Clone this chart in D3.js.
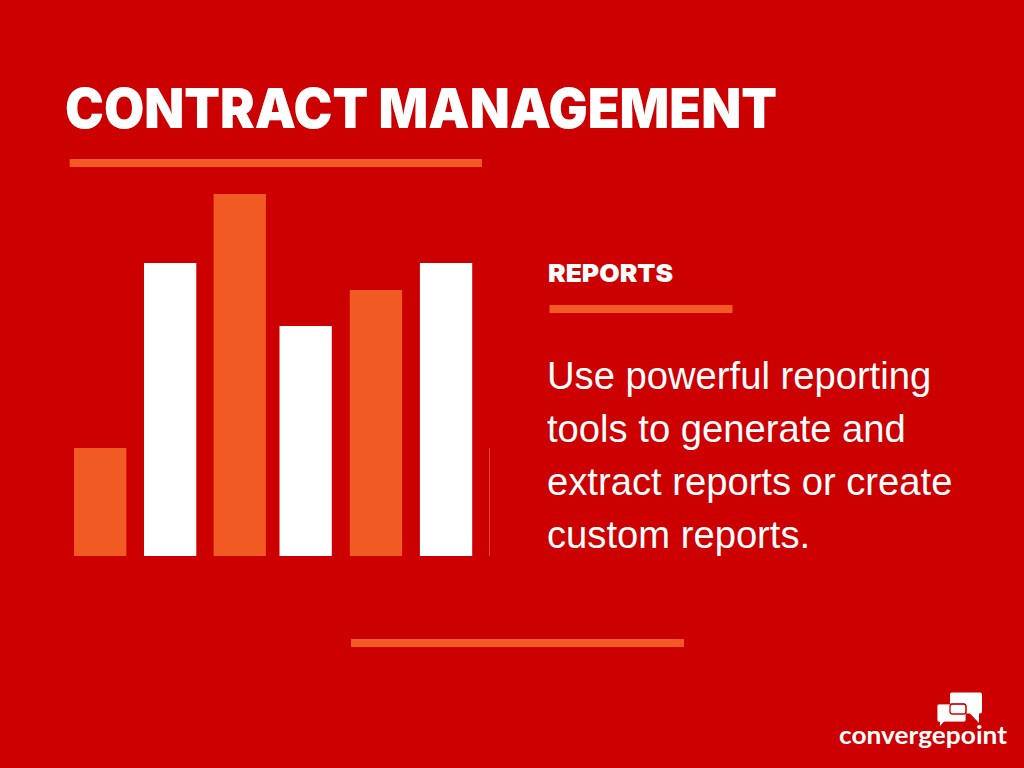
<!DOCTYPE html>
<html lang="en">
<head>
<meta charset="UTF-8">
<title>Contract Management</title>
<script src="https://d3js.org/d3.v7.min.js"></script>
<style>
  html, body { margin: 0; padding: 0; background: #cc0000; }
  svg { display: block; }
</style>
</head>
<body>
<div id="vis"></div>
<script>
// chart values
var categories = ["A", "B", "C", "D", "E", "F", "G"];
var values = [108, 293, 362, 230, 266, 293, 108];
var highlighted = ["A", "C", "E"];
var bodyLines = [
  "Use powerful reporting",
  "tools to generate and",
  "extract reports or create",
  "custom reports."
];

var width = 1024;
var height = 768;
var red = "#cc0000";
var orange = "#f15a22";

var svg = d3.select("#vis").append("svg")
  .attr("width", width)
  .attr("height", height);

svg.append("rect")
  .attr("width", width)
  .attr("height", height)
  .attr("fill", red);

// bars are not evenly spaced in the original, so ordinal scales for x and width
var x = d3.scaleOrdinal()
  .domain(categories)
  .range([74, 144, 213.6, 279.5, 349.8, 419.9, 489.2]);

var barWidth = d3.scaleOrdinal()
  .domain(categories)
  .range([52.3, 52.3, 52.3, 52.3, 52.3, 52.3, 0.8]);

var y = d3.scaleLinear()
  .domain([0, 362])
  .range([556, 194]);

svg.selectAll(".bar")
  .data(categories)
  .enter()
  .append("rect")
  .attr("class", "bar")
  .attr("x", function(d) { return x(d); })
  .attr("width", function(d) { return barWidth(d); })
  .attr("y", function(d, i) { return y(values[i]); })
  .attr("height", function(d, i) { return y(0) - y(values[i]); })
  .attr("fill", function(d, i) {
    if (i == categories.length - 1) return orange;
    return highlighted.indexOf(d) >= 0 ? orange : "#ffffff";
  });

// divider rules
function rule(x0, x1, yTop) {
  svg.append("rect")
    .attr("x", x0)
    .attr("y", yTop)
    .attr("width", x1 - x0)
    .attr("height", 8)
    .attr("fill", orange);
}
rule(69.7, 482, 159);
rule(549.5, 732.5, 305);
rule(351, 684, 639);

svg.append("text")
  .attr("x", 65)
  .attr("y", 128)
  .attr("font-family", "Inter, sans-serif")
  .attr("font-weight", 900)
  .attr("font-size", 55)
  .attr("textLength", 712)
  .attr("lengthAdjust", "spacingAndGlyphs")
  .attr("fill", "#ffffff")
  .text("CONTRACT MANAGEMENT");

svg.append("text")
  .attr("x", 548)
  .attr("y", 282)
  .attr("font-family", "Inter, sans-serif")
  .attr("font-weight", 900)
  .attr("font-size", 25)
  .attr("textLength", 125)
  .attr("lengthAdjust", "spacingAndGlyphs")
  .attr("fill", "#ffffff")
  .text("REPORTS");

svg.selectAll(".body-line")
  .data(bodyLines)
  .enter()
  .append("text")
  .attr("class", "body-line")
  .attr("x", 547)
  .attr("y", function(d, i) { return 389 + i * 53; })
  .attr("font-family", "'Liberation Sans', Arial, sans-serif")
  .attr("font-size", 38.2)
  .attr("fill", "#ffffff")
  .text(function(d) { return d; });

// logo
var logo = svg.append("g");

logo.append("path")
  .attr("d", "M952 692.5h28a2 2 0 0 1 2 2v17a2 2 0 0 1-2 2h-1v9.500l-9-9.500h-18a2 2 0 0 1-2-2v-17a2 2 0 0 1 2-2z")
  .attr("fill", "#ffffff");

logo.append("path")
  .attr("d", "M939 704h25a2 2 0 0 1 2 2v14a2 2 0 0 1-2 2h-20l-4.500 5v-5h-0.500a2 2 0 0 1-2-2v-14a2 2 0 0 1 2-2z")
  .attr("fill", "#ffffff")
  .attr("stroke", red)
  .attr("stroke-width", 0.8);

logo.append("rect")
  .attr("x", 950)
  .attr("y", 704)
  .attr("width", 16)
  .attr("height", 10)
  .attr("rx", 2.5)
  .attr("fill", "none")
  .attr("stroke", red)
  .attr("stroke-width", 1.3);

logo.append("text")
  .attr("x", 839)
  .attr("y", 743.5)
  .attr("font-family", "Lato, sans-serif")
  .attr("font-weight", 700)
  .attr("font-size", 25)
  .attr("textLength", 168)
  .attr("lengthAdjust", "spacingAndGlyphs")
  .attr("fill", "#ffffff")
  .text("convergepoint");
</script>
</body>
</html>
